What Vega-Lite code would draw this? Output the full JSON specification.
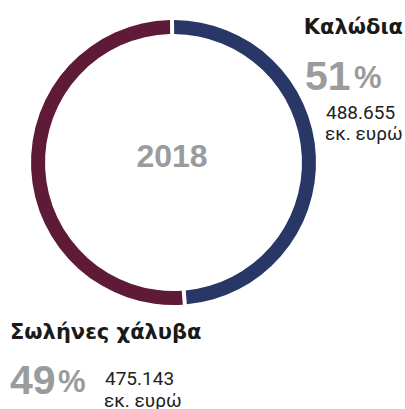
{
  "$schema": "https://vega.github.io/schema/vega-lite/v6.json",
  "width": 285,
  "height": 285,
  "autosize": {"type": "none"},
  "padding": {"left": 31, "top": 20, "right": 89, "bottom": 104},
  "background": "white",
  "config": {"view": {"stroke": null}, "font": "Roboto"},
  "data": {
    "values": [
      {"segment": "Καλώδια", "share": 48.9, "pct": "51", "amount": "488.655", "unit": "εκ. ευρώ", "year": "2018"},
      {"segment": "Σωλήνες χάλυβα", "share": 51.1, "pct": "49", "amount": "475.143", "unit": "εκ. ευρώ", "year": "2018"}
    ]
  },
  "layer": [
    {
      "mark": {"type": "arc", "outerRadius": 142.5, "innerRadius": 128.5, "padAngle": 0.021},
      "encoding": {
        "theta": {"field": "share", "type": "quantitative", "stack": true, "scale": {"range": [-0.0105, 6.2727]}},
        "color": {"field": "segment", "type": "nominal", "legend": null,
          "scale": {"domain": ["Καλώδια", "Σωλήνες χάλυβα"], "range": ["#283766", "#5e1a36"]}},
        "order": {"field": "segment", "sort": "ascending"}
      }
    },
    {
      "transform": [{"filter": "datum.segment === 'Καλώδια'"}],
      "mark": {"type": "text", "x": 141, "y": 147, "align": "center", "baseline": "alphabetic", "font": "Liberation Sans", "fontSize": 32, "fontWeight": "bold", "color": "#9a9b9d"},
      "encoding": {"text": {"field": "year"}}
    },
    {
      "transform": [{"filter": "datum.segment === 'Καλώδια'"}],
      "mark": {"type": "text", "x": 372, "y": 14, "align": "right", "baseline": "alphabetic", "font": "DejaVu Sans", "fontSize": 21, "fontWeight": "bold", "color": "#1a1a1a"},
      "encoding": {"text": {"field": "segment"}}
    },
    {
      "transform": [{"filter": "datum.segment === 'Καλώδια'"}],
      "mark": {"type": "text", "x": 274, "y": 70, "align": "left", "baseline": "alphabetic", "font": "Liberation Sans", "fontSize": 41, "fontWeight": "bold", "color": "#9a9b9d"},
      "encoding": {"text": {"field": "pct"}}
    },
    {
      "transform": [{"filter": "datum.segment === 'Καλώδια'"}],
      "mark": {"type": "text", "x": 323, "y": 68, "align": "left", "baseline": "alphabetic", "font": "Liberation Sans", "fontSize": 31, "fontWeight": "bold", "color": "#9a9b9d", "text": "%"},
      "encoding": {}
    },
    {
      "transform": [{"filter": "datum.segment === 'Καλώδια'"}],
      "mark": {"type": "text", "x": 295, "y": 99, "align": "left", "baseline": "alphabetic", "fontSize": 19, "color": "#222222"},
      "encoding": {"text": {"field": "amount"}}
    },
    {
      "transform": [{"filter": "datum.segment === 'Καλώδια'"}],
      "mark": {"type": "text", "x": 294, "y": 120, "align": "left", "baseline": "alphabetic", "fontSize": 19, "color": "#222222"},
      "encoding": {"text": {"field": "unit"}}
    },
    {
      "transform": [{"filter": "datum.segment === 'Σωλήνες χάλυβα'"}],
      "mark": {"type": "text", "x": -21, "y": 319, "align": "left", "baseline": "alphabetic", "font": "DejaVu Sans", "fontSize": 21, "fontWeight": "bold", "color": "#1a1a1a"},
      "encoding": {"text": {"field": "segment"}}
    },
    {
      "transform": [{"filter": "datum.segment === 'Σωλήνες χάλυβα'"}],
      "mark": {"type": "text", "x": -21, "y": 374, "align": "left", "baseline": "alphabetic", "font": "Liberation Sans", "fontSize": 41, "fontWeight": "bold", "color": "#9a9b9d"},
      "encoding": {"text": {"field": "pct"}}
    },
    {
      "transform": [{"filter": "datum.segment === 'Σωλήνες χάλυβα'"}],
      "mark": {"type": "text", "x": 27, "y": 372, "align": "left", "baseline": "alphabetic", "font": "Liberation Sans", "fontSize": 31, "fontWeight": "bold", "color": "#9a9b9d", "text": "%"},
      "encoding": {}
    },
    {
      "transform": [{"filter": "datum.segment === 'Σωλήνες χάλυβα'"}],
      "mark": {"type": "text", "x": 74, "y": 365, "align": "left", "baseline": "alphabetic", "fontSize": 19, "color": "#222222"},
      "encoding": {"text": {"field": "amount"}}
    },
    {
      "transform": [{"filter": "datum.segment === 'Σωλήνες χάλυβα'"}],
      "mark": {"type": "text", "x": 73, "y": 387, "align": "left", "baseline": "alphabetic", "fontSize": 19, "color": "#222222"},
      "encoding": {"text": {"field": "unit"}}
    }
  ]
}
